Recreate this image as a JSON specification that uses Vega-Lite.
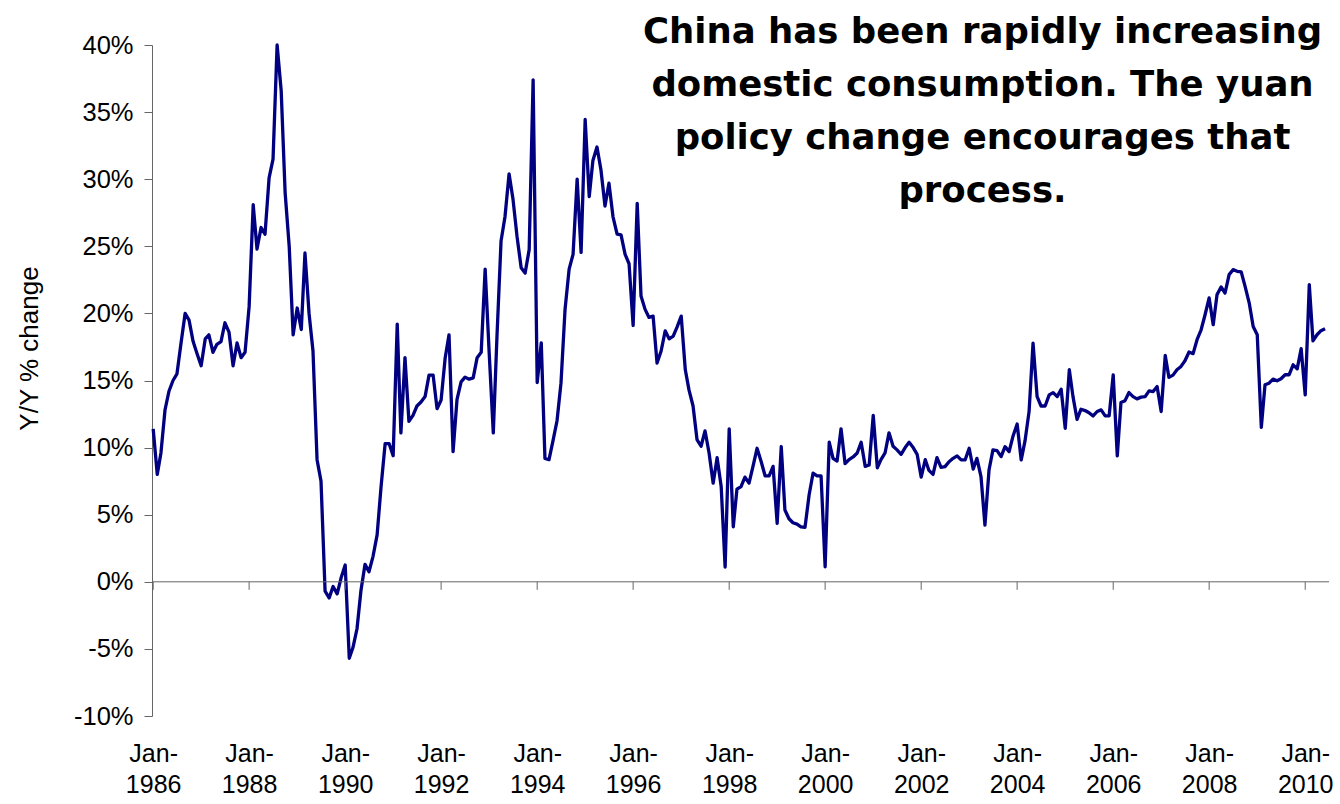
{
  "$schema": "https://vega.github.io/schema/vega-lite/v6.json",
  "width": 1177,
  "height": 671,
  "autosize": "none",
  "padding": {"left": 152, "top": 45, "right": 11, "bottom": 88},
  "background": "white",
  "config": {"view": {"stroke": null}, "font": "Liberation Sans"},
  "title": {
    "text": ["China has been rapidly increasing", "domestic consumption. The yuan", "policy change encourages that", "process."],
    "font": "DejaVu Sans",
    "fontSize": 35.5,
    "fontWeight": "bold",
    "color": "black",
    "anchor": "middle",
    "frame": "group",
    "align": "center",
    "lineHeight": 53,
    "baseline": "top",
    "dx": 242,
    "dy": 180
  },
  "datasets": {
    "ticks": [
      {"date": "1986-01"}, {"date": "1988-01"}, {"date": "1990-01"}, {"date": "1992-01"}, {"date": "1994-01"},
      {"date": "1996-01"}, {"date": "1998-01"}, {"date": "2000-01"}, {"date": "2002-01"}, {"date": "2004-01"},
      {"date": "2006-01"}, {"date": "2008-01"}, {"date": "2010-01"}
    ],
    "cons": [
      {"date":"1986-01","v":11.4},{"date":"1986-02","v":8.0},{"date":"1986-03","v":9.6},{"date":"1986-04","v":12.8},{"date":"1986-05","v":14.2},{"date":"1986-06","v":15.0},{"date":"1986-07","v":15.5},{"date":"1986-08","v":17.8},{"date":"1986-09","v":20.0},{"date":"1986-10","v":19.5},{"date":"1986-11","v":17.9},{"date":"1986-12","v":17.0},
      {"date":"1987-01","v":16.1},{"date":"1987-02","v":18.1},{"date":"1987-03","v":18.4},{"date":"1987-04","v":17.1},{"date":"1987-05","v":17.7},{"date":"1987-06","v":17.9},{"date":"1987-07","v":19.3},{"date":"1987-08","v":18.6},{"date":"1987-09","v":16.1},{"date":"1987-10","v":17.8},{"date":"1987-11","v":16.7},{"date":"1987-12","v":17.1},
      {"date":"1988-01","v":20.5},{"date":"1988-02","v":28.1},{"date":"1988-03","v":24.8},{"date":"1988-04","v":26.4},{"date":"1988-05","v":25.9},{"date":"1988-06","v":30.1},{"date":"1988-07","v":31.5},{"date":"1988-08","v":40.0},{"date":"1988-09","v":36.6},{"date":"1988-10","v":29.0},{"date":"1988-11","v":25.0},{"date":"1988-12","v":18.4},
      {"date":"1989-01","v":20.4},{"date":"1989-02","v":18.8},{"date":"1989-03","v":24.5},{"date":"1989-04","v":20.0},{"date":"1989-05","v":17.2},{"date":"1989-06","v":9.1},{"date":"1989-07","v":7.5},{"date":"1989-08","v":-0.7},{"date":"1989-09","v":-1.2},{"date":"1989-10","v":-0.35},{"date":"1989-11","v":-0.9},{"date":"1989-12","v":0.3},
      {"date":"1990-01","v":1.25},{"date":"1990-02","v":-5.7},{"date":"1990-03","v":-4.9},{"date":"1990-04","v":-3.5},{"date":"1990-05","v":-0.65},{"date":"1990-06","v":1.3},{"date":"1990-07","v":0.75},{"date":"1990-08","v":1.9},{"date":"1990-09","v":3.5},{"date":"1990-10","v":7.1},{"date":"1990-11","v":10.3},{"date":"1990-12","v":10.3},
      {"date":"1991-01","v":9.4},{"date":"1991-02","v":19.2},{"date":"1991-03","v":11.1},{"date":"1991-04","v":16.7},{"date":"1991-05","v":11.95},{"date":"1991-06","v":12.4},{"date":"1991-07","v":13.1},{"date":"1991-08","v":13.4},{"date":"1991-09","v":13.8},{"date":"1991-10","v":15.4},{"date":"1991-11","v":15.4},{"date":"1991-12","v":12.9},
      {"date":"1992-01","v":13.55},{"date":"1992-02","v":16.7},{"date":"1992-03","v":18.4},{"date":"1992-04","v":9.7},{"date":"1992-05","v":13.6},{"date":"1992-06","v":14.9},{"date":"1992-07","v":15.25},{"date":"1992-08","v":15.1},{"date":"1992-09","v":15.2},{"date":"1992-10","v":16.7},{"date":"1992-11","v":17.1},{"date":"1992-12","v":23.3},
      {"date":"1993-01","v":17.0},{"date":"1993-02","v":11.1},{"date":"1993-03","v":18.3},{"date":"1993-04","v":25.4},{"date":"1993-05","v":27.2},{"date":"1993-06","v":30.4},{"date":"1993-07","v":28.5},{"date":"1993-08","v":25.7},{"date":"1993-09","v":23.4},{"date":"1993-10","v":23.0},{"date":"1993-11","v":24.75},{"date":"1993-12","v":37.4},
      {"date":"1994-01","v":14.85},{"date":"1994-02","v":17.8},{"date":"1994-03","v":9.2},{"date":"1994-04","v":9.1},{"date":"1994-05","v":10.5},{"date":"1994-06","v":12.0},{"date":"1994-07","v":14.8},{"date":"1994-08","v":20.3},{"date":"1994-09","v":23.3},{"date":"1994-10","v":24.4},{"date":"1994-11","v":30.0},{"date":"1994-12","v":24.55},
      {"date":"1995-01","v":34.45},{"date":"1995-02","v":28.7},{"date":"1995-03","v":31.4},{"date":"1995-04","v":32.4},{"date":"1995-05","v":30.7},{"date":"1995-06","v":28.0},{"date":"1995-07","v":29.7},{"date":"1995-08","v":27.2},{"date":"1995-09","v":25.9},{"date":"1995-10","v":25.85},{"date":"1995-11","v":24.4},{"date":"1995-12","v":23.7},
      {"date":"1996-01","v":19.1},{"date":"1996-02","v":28.2},{"date":"1996-03","v":21.3},{"date":"1996-04","v":20.3},{"date":"1996-05","v":19.7},{"date":"1996-06","v":19.8},{"date":"1996-07","v":16.3},{"date":"1996-08","v":17.2},{"date":"1996-09","v":18.7},{"date":"1996-10","v":18.1},{"date":"1996-11","v":18.3},{"date":"1996-12","v":19.0},
      {"date":"1997-01","v":19.8},{"date":"1997-02","v":15.8},{"date":"1997-03","v":14.3},{"date":"1997-04","v":13.1},{"date":"1997-05","v":10.6},{"date":"1997-06","v":10.1},{"date":"1997-07","v":11.25},{"date":"1997-08","v":9.6},{"date":"1997-09","v":7.35},{"date":"1997-10","v":9.25},{"date":"1997-11","v":7.1},{"date":"1997-12","v":1.1},
      {"date":"1998-01","v":11.4},{"date":"1998-02","v":4.1},{"date":"1998-03","v":6.9},{"date":"1998-04","v":7.1},{"date":"1998-05","v":7.8},{"date":"1998-06","v":7.35},{"date":"1998-07","v":8.6},{"date":"1998-08","v":9.95},{"date":"1998-09","v":8.96},{"date":"1998-10","v":7.9},{"date":"1998-11","v":7.9},{"date":"1998-12","v":8.6},
      {"date":"1999-01","v":4.35},{"date":"1999-02","v":10.08},{"date":"1999-03","v":5.35},{"date":"1999-04","v":4.7},{"date":"1999-05","v":4.4},{"date":"1999-06","v":4.3},{"date":"1999-07","v":4.1},{"date":"1999-08","v":4.06},{"date":"1999-09","v":6.47},{"date":"1999-10","v":8.09},{"date":"1999-11","v":7.9},{"date":"1999-12","v":7.9},
      {"date":"2000-01","v":1.12},{"date":"2000-02","v":10.4},{"date":"2000-03","v":9.2},{"date":"2000-04","v":9.0},{"date":"2000-05","v":11.4},{"date":"2000-06","v":8.8},{"date":"2000-07","v":9.1},{"date":"2000-08","v":9.3},{"date":"2000-09","v":9.6},{"date":"2000-10","v":10.4},{"date":"2000-11","v":8.6},{"date":"2000-12","v":8.7},
      {"date":"2001-01","v":12.4},{"date":"2001-02","v":8.5},{"date":"2001-03","v":9.1},{"date":"2001-04","v":9.6},{"date":"2001-05","v":11.1},{"date":"2001-06","v":10.1},{"date":"2001-07","v":9.83},{"date":"2001-08","v":9.5},{"date":"2001-09","v":10.0},{"date":"2001-10","v":10.4},{"date":"2001-11","v":10.0},{"date":"2001-12","v":9.5},
      {"date":"2002-01","v":7.8},{"date":"2002-02","v":9.1},{"date":"2002-03","v":8.3},{"date":"2002-04","v":8.0},{"date":"2002-05","v":9.25},{"date":"2002-06","v":8.53},{"date":"2002-07","v":8.58},{"date":"2002-08","v":8.95},{"date":"2002-09","v":9.2},{"date":"2002-10","v":9.38},{"date":"2002-11","v":9.08},{"date":"2002-12","v":9.08},
      {"date":"2003-01","v":9.95},{"date":"2003-02","v":8.4},{"date":"2003-03","v":9.2},{"date":"2003-04","v":7.84},{"date":"2003-05","v":4.23},{"date":"2003-06","v":8.33},{"date":"2003-07","v":9.83},{"date":"2003-08","v":9.78},{"date":"2003-09","v":9.33},{"date":"2003-10","v":10.07},{"date":"2003-11","v":9.7},{"date":"2003-12","v":10.87},
      {"date":"2004-01","v":11.76},{"date":"2004-02","v":9.08},{"date":"2004-03","v":10.5},{"date":"2004-04","v":12.7},{"date":"2004-05","v":17.78},{"date":"2004-06","v":13.8},{"date":"2004-07","v":13.1},{"date":"2004-08","v":13.1},{"date":"2004-09","v":13.93},{"date":"2004-10","v":14.1},{"date":"2004-11","v":13.8},{"date":"2004-12","v":14.35},
      {"date":"2005-01","v":11.44},{"date":"2005-02","v":15.8},{"date":"2005-03","v":13.8},{"date":"2005-04","v":12.1},{"date":"2005-05","v":12.86},{"date":"2005-06","v":12.76},{"date":"2005-07","v":12.6},{"date":"2005-08","v":12.36},{"date":"2005-09","v":12.69},{"date":"2005-10","v":12.81},{"date":"2005-11","v":12.36},{"date":"2005-12","v":12.36},
      {"date":"2006-01","v":15.42},{"date":"2006-02","v":9.38},{"date":"2006-03","v":13.36},{"date":"2006-04","v":13.5},{"date":"2006-05","v":14.1},{"date":"2006-06","v":13.8},{"date":"2006-07","v":13.63},{"date":"2006-08","v":13.76},{"date":"2006-09","v":13.8},{"date":"2006-10","v":14.23},{"date":"2006-11","v":14.18},{"date":"2006-12","v":14.55},
      {"date":"2007-01","v":12.69},{"date":"2007-02","v":16.87},{"date":"2007-03","v":15.23},{"date":"2007-04","v":15.4},{"date":"2007-05","v":15.8},{"date":"2007-06","v":16.05},{"date":"2007-07","v":16.47},{"date":"2007-08","v":17.12},{"date":"2007-09","v":17.0},{"date":"2007-10","v":18.04},{"date":"2007-11","v":18.78},{"date":"2007-12","v":19.9},
      {"date":"2008-01","v":21.15},{"date":"2008-02","v":19.16},{"date":"2008-03","v":21.4},{"date":"2008-04","v":21.97},{"date":"2008-05","v":21.52},{"date":"2008-06","v":22.89},{"date":"2008-07","v":23.26},{"date":"2008-08","v":23.14},{"date":"2008-09","v":23.09},{"date":"2008-10","v":22.0},{"date":"2008-11","v":20.77},{"date":"2008-12","v":19.03},
      {"date":"2009-01","v":18.41},{"date":"2009-02","v":11.5},{"date":"2009-03","v":14.68},{"date":"2009-04","v":14.8},{"date":"2009-05","v":15.1},{"date":"2009-06","v":14.98},{"date":"2009-07","v":15.13},{"date":"2009-08","v":15.43},{"date":"2009-09","v":15.43},{"date":"2009-10","v":16.17},{"date":"2009-11","v":15.87},{"date":"2009-12","v":17.37},
      {"date":"2010-01","v":13.93},{"date":"2010-02","v":22.14},{"date":"2010-03","v":17.96},{"date":"2010-04","v":18.41},{"date":"2010-05","v":18.71},{"date":"2010-06","v":18.86}
    ]
  },
  "layer": [
    {
      "data": {"name": "cons"},
      "mark": {"type": "line", "color": "#000080", "strokeWidth": 3.3, "strokeJoin": "round"},
      "encoding": {
        "x": {
          "field": "date", "type": "temporal",
          "scale": {"type": "utc", "domain": [{"year": 1985, "month": 12, "date": 23, "utc": true}, {"year": 2010, "month": 7, "date": 1, "utc": true}]},
          "axis": {
            "title": null,
            "values": [
              {"year": 1986, "month": 1, "date": 1, "utc": true}, {"year": 1988, "month": 1, "date": 1, "utc": true},
              {"year": 1990, "month": 1, "date": 1, "utc": true}, {"year": 1992, "month": 1, "date": 1, "utc": true},
              {"year": 1994, "month": 1, "date": 1, "utc": true}, {"year": 1996, "month": 1, "date": 1, "utc": true},
              {"year": 1998, "month": 1, "date": 1, "utc": true}, {"year": 2000, "month": 1, "date": 1, "utc": true},
              {"year": 2002, "month": 1, "date": 1, "utc": true}, {"year": 2004, "month": 1, "date": 1, "utc": true},
              {"year": 2006, "month": 1, "date": 1, "utc": true}, {"year": 2008, "month": 1, "date": 1, "utc": true},
              {"year": 2010, "month": 1, "date": 1, "utc": true}
            ],
            "labelExpr": "['Jan-', utcFormat(datum.value, '%Y')]",
            "domain": false, "ticks": false, "grid": false,
            "labelFont": "Liberation Sans", "labelFontSize": 25, "labelColor": "black",
            "labelPadding": 25, "labelLineHeight": 31, "labelAlign": "center", "labelBaseline": "top",
            "labelFlush": false, "labelOverlap": false
          }
        },
        "y": {
          "field": "v", "type": "quantitative",
          "scale": {"domain": [-10, 40], "nice": false, "zero": false},
          "axis": {
            "title": "Y/Y % change",
            "values": [-10, -5, 0, 5, 10, 15, 20, 25, 30, 35, 40],
            "labelExpr": "datum.value + '%'",
            "grid": false,
            "domainColor": "#666666", "domainWidth": 1,
            "tickColor": "#666666", "tickWidth": 1, "tickSize": 8,
            "labelFont": "Liberation Sans", "labelFontSize": 25.5, "labelColor": "black", "labelPadding": 11,
            "titleFont": "Liberation Sans", "titleFontSize": 26, "titleFontWeight": "normal", "titleColor": "black",
            "titleAngle": -90, "titleX": -123, "titleY": 303, "titleAlign": "center", "titleBaseline": "middle"
          }
        }
      }
    },
    {
      "data": {"name": "ticks"},
      "mark": {"type": "rule", "color": "#666666", "strokeWidth": 1},
      "encoding": {
        "x": {"field": "date", "type": "temporal"},
        "y": {"datum": 0},
        "y2": {"datum": -0.6}
      }
    },
    {
      "data": {"values": [{"z": 0}]},
      "mark": {"type": "rule", "color": "#666666", "strokeWidth": 1},
      "encoding": {
        "y": {"field": "z", "type": "quantitative"}
      }
    }
  ]
}
